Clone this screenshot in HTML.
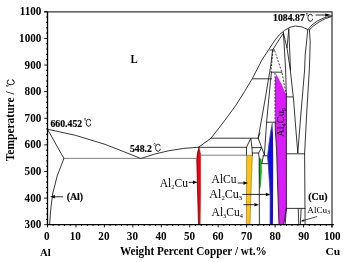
<!DOCTYPE html>
<html lang="en"><head><meta charset="utf-8"><title>Al-Cu phase diagram</title>
<style>html,body{margin:0;padding:0;background:#fff}body{width:347px;height:262px;overflow:hidden}svg{display:block}text{font-family:"Liberation Serif","IPAGothic",serif;fill:#000}.b{font-weight:bold}.c{font-family:"Liberation Serif","IPAGothic",serif;font-weight:normal}.ln{fill:none;stroke:#141414;stroke-width:.85;stroke-linejoin:round;stroke-linecap:round}.th{fill:none;stroke:#555;stroke-width:.75}.ds{fill:none;stroke:#141414;stroke-width:.8;stroke-dasharray:2 1.4}</style></head><body>
<svg width="347" height="262" viewBox="0 0 347 262">
<rect width="347" height="262" fill="#fff"/>
<path d="M199.1,147.3 L200.6,154 L200.6,195 L200.2,224.7 L198.5,224.7 L197.5,190 L196.8,160 Q197,152 199.1,147.3Z" fill="#fa0000"/>
<path d="M199.1,147.3 Q197,152 196.8,160 L197.5,190 L198.5,224.7" fill="none" stroke="#300" stroke-width=".7"/>
<path d="M199.1,147.3 L200.6,154 L200.6,195 L200.2,224.7" fill="none" stroke="#700" stroke-width=".35"/>
<path d="M246.6,155.2 L252.4,155.2 L251.4,180 L250.0,224.7 L246.3,224.7 Z" fill="#ffc20e" stroke="#5a4a10" stroke-width=".45"/>
<path d="M259.0,157.6 L261.6,159.2 L261.8,172 L260.8,186 L259.6,191 L258.9,172Z" fill="#00be14"/>
<path d="M272.3,122.8 L273.0,135 L273.5,160 L273.2,195 L272.9,224.7 L270,224.7 L270.1,196 L269.5,184 L268.2,164 L267.5,156 L268.8,145 L270.6,132 Z" fill="#0a0af5"/>
<path d="M273.2,140 L275.6,140 L276.8,165 L277.8,200 L279,224.7 L273,224.7 L273.4,180Z" fill="#fffef2"/>
<path d="M276.2,74.3 L281.5,84 L286.4,95.2 L286.4,208.4 L283.7,224.7 L279.0,224.7 L277.6,185 L276.6,150 L275.3,130 L275.0,100 L275.0,78Z" fill="#d81cfc"/>
<path class="ln" d="M47.5,129.2 Q75,134 104,144 Q125,152 140.8,158.5 M47.5,129.2 L63.9,158.4 M63.9,158.4 Q56,176 52.6,194 Q50.3,210 49.6,224.7 M140.8,158.5 Q168,148.5 198.7,147.2 M198.7,147.2 L211,138.2 Q224,122 236.1,105 Q245,91 252.3,78.6 L261.9,60 L275.2,39.8 Q280,33.3 284.5,30.4 Q290,26.3 295.5,26 Q302,26 307.9,29.5 M307.9,29.5 Q315.5,18.8 332,15.6 M309.4,29.8 Q317.5,20.6 332,16.3 M198.7,147.3 H246.5 M211,138.2 H258.2 M252.6,78.8 H271.6 M246.5,155.2 V147.3 L250.8,138.2 L252.2,150 L252.4,155.4 M252.2,147.6 H261.6 M252.3,153 H258.6 M261.5,147.8 L258.6,153 L259.2,158 L259.4,224.7 M263.4,155.8 L261.8,163.6 M263,155.8 H267.5 M261.8,163.6 H268.2 M283.3,33.5 L279.8,38.6 L272.6,50 L270.7,66 L265,100 L258.2,138.2 L260,133 M258.2,138.2 L264.4,155 M271.4,72.2 L268.7,100 L266.6,122.2 L264.4,155 M266.6,122.2 H275.2 M270,50 H274.6 M271.2,72.2 H282 M275.2,121.5 L275.3,130 L276.6,150 L277.6,185 L279.0,224.7 M286.4,96.8 V208.4 L283.7,224.7 M286.4,208.4 L285.2,224.7 M283.3,32.5 L284.2,45 L285.6,70 L286.4,96.8 M283.3,32.5 L287,48 L288.8,29 M287,48 L290.3,70 L293.6,100 L295.5,125 L297.8,152.8 M288.8,29 L290.5,70 M286.4,96.9 H292.6 M307.8,29.6 L305.2,55 L304.6,70 L300.8,115 L297.8,152.8 M309.4,29.8 L310.2,42 L309.7,60 L309.3,70 L306.6,115 L304.6,153.8 L305.1,224.7 M286.4,153.8 H304.6 M286.4,208.4 H305.1 M298.2,208.4 L298.8,224.7 M301.1,208.4 L300.4,224.7"/>
<path class="th" d="M63.9,158.4 H196.7 M199.8,155.2 H246.5 M272.3,122.8 L270.6,132 L268.8,145 L267.5,156 L268.2,164 L269.5,184 L270.1,196 L270.0,224.7"/>
<path class="ds" d="M273,50.5 L270.9,72 M274.6,50.5 L281.8,72 L286.3,95 M275,73 V121"/>
<path d="M44.1,11.8 H332.0 V227.5" fill="none" stroke="#383838" stroke-width="1.25"/>
<path d="M47.5,11.8 V224.7 H333.8" fill="none" stroke="#000" stroke-width="1.3"/>
<path d="M47.50,224.70 h-3.3 M47.50,219.38 h-1.5 M47.50,214.05 h-1.5 M47.50,208.73 h-1.5 M47.50,203.41 h-1.5 M47.50,198.09 h-3.3 M47.50,192.76 h-1.5 M47.50,187.44 h-1.5 M47.50,182.12 h-1.5 M47.50,176.80 h-1.5 M47.50,171.47 h-3.3 M47.50,166.15 h-1.5 M47.50,160.83 h-1.5 M47.50,155.51 h-1.5 M47.50,150.19 h-1.5 M47.50,144.86 h-3.3 M47.50,139.54 h-1.5 M47.50,134.22 h-1.5 M47.50,128.90 h-1.5 M47.50,123.57 h-1.5 M47.50,118.25 h-3.3 M47.50,112.93 h-1.5 M47.50,107.61 h-1.5 M47.50,102.28 h-1.5 M47.50,96.96 h-1.5 M47.50,91.64 h-3.3 M47.50,86.31 h-1.5 M47.50,80.99 h-1.5 M47.50,75.67 h-1.5 M47.50,70.35 h-1.5 M47.50,65.03 h-3.3 M47.50,59.70 h-1.5 M47.50,54.38 h-1.5 M47.50,49.06 h-1.5 M47.50,43.74 h-1.5 M47.50,38.41 h-3.3 M47.50,33.09 h-1.5 M47.50,27.77 h-1.5 M47.50,22.45 h-1.5 M47.50,17.12 h-1.5 M47.50,11.80 h-3.3 M47.50,224.70 v2.7 M53.19,224.70 v1.3 M58.88,224.70 v1.3 M64.57,224.70 v1.3 M70.26,224.70 v1.3 M75.95,224.70 v2.7 M81.64,224.70 v1.3 M87.33,224.70 v1.3 M93.02,224.70 v1.3 M98.71,224.70 v1.3 M104.40,224.70 v2.7 M110.09,224.70 v1.3 M115.78,224.70 v1.3 M121.47,224.70 v1.3 M127.16,224.70 v1.3 M132.85,224.70 v2.7 M138.54,224.70 v1.3 M144.23,224.70 v1.3 M149.92,224.70 v1.3 M155.61,224.70 v1.3 M161.30,224.70 v2.7 M166.99,224.70 v1.3 M172.68,224.70 v1.3 M178.37,224.70 v1.3 M184.06,224.70 v1.3 M189.75,224.70 v2.7 M195.44,224.70 v1.3 M201.13,224.70 v1.3 M206.82,224.70 v1.3 M212.51,224.70 v1.3 M218.20,224.70 v2.7 M223.89,224.70 v1.3 M229.58,224.70 v1.3 M235.27,224.70 v1.3 M240.96,224.70 v1.3 M246.65,224.70 v2.7 M252.34,224.70 v1.3 M258.03,224.70 v1.3 M263.72,224.70 v1.3 M269.41,224.70 v1.3 M275.10,224.70 v2.7 M280.79,224.70 v1.3 M286.48,224.70 v1.3 M292.17,224.70 v1.3 M297.86,224.70 v1.3 M303.55,224.70 v2.7 M309.24,224.70 v1.3 M314.93,224.70 v1.3 M320.62,224.70 v1.3 M326.31,224.70 v1.3 M332.00,224.70 v2.7" fill="none" stroke="#000" stroke-width=".9"/>
<text class="b" transform="translate(41.40,228.30) scale(0.925,1)" font-size="12.1" text-anchor="end">300</text>
<text class="b" transform="translate(41.40,201.69) scale(0.925,1)" font-size="12.1" text-anchor="end">400</text>
<text class="b" transform="translate(41.40,175.07) scale(0.925,1)" font-size="12.1" text-anchor="end">500</text>
<text class="b" transform="translate(41.40,148.46) scale(0.925,1)" font-size="12.1" text-anchor="end">600</text>
<text class="b" transform="translate(41.40,121.85) scale(0.925,1)" font-size="12.1" text-anchor="end">700</text>
<text class="b" transform="translate(41.40,95.24) scale(0.925,1)" font-size="12.1" text-anchor="end">800</text>
<text class="b" transform="translate(41.40,68.62) scale(0.925,1)" font-size="12.1" text-anchor="end">900</text>
<text class="b" transform="translate(41.40,42.01) scale(0.925,1)" font-size="12.1" text-anchor="end">1000</text>
<text class="b" transform="translate(41.40,15.40) scale(0.925,1)" font-size="12.1" text-anchor="end">1100</text>
<text class="b" transform="translate(46.80,240.30) scale(0.925,1)" font-size="12.1" text-anchor="middle">0</text>
<text class="b" transform="translate(75.35,240.30) scale(0.925,1)" font-size="12.1" text-anchor="middle">10</text>
<text class="b" transform="translate(103.90,240.30) scale(0.925,1)" font-size="12.1" text-anchor="middle">20</text>
<text class="b" transform="translate(132.45,240.30) scale(0.925,1)" font-size="12.1" text-anchor="middle">30</text>
<text class="b" transform="translate(161.00,240.30) scale(0.925,1)" font-size="12.1" text-anchor="middle">40</text>
<text class="b" transform="translate(189.55,240.30) scale(0.925,1)" font-size="12.1" text-anchor="middle">50</text>
<text class="b" transform="translate(218.10,240.30) scale(0.925,1)" font-size="12.1" text-anchor="middle">60</text>
<text class="b" transform="translate(246.65,240.30) scale(0.925,1)" font-size="12.1" text-anchor="middle">70</text>
<text class="b" transform="translate(275.20,240.30) scale(0.925,1)" font-size="12.1" text-anchor="middle">80</text>
<text class="b" transform="translate(303.75,240.30) scale(0.925,1)" font-size="12.1" text-anchor="middle">90</text>
<text class="b" transform="translate(332.30,240.30) scale(0.925,1)" font-size="12.1" text-anchor="middle">100</text>
<text class="b" transform="translate(13.9,161.3) rotate(-90)" font-size="11.5">Temperature /</text>
<text class="c" transform="translate(14.6,87.2) rotate(-90) scale(.82,1)" font-size="10.8">℃</text>
<text class="b" transform="translate(119.90,255.00) scale(0.943,1)" font-size="11.9">Weight Percent Copper / wt.%</text>
<text class="b" transform="translate(40.00,255.60) scale(0.980,1)" font-size="10.9">Al</text>
<text class="b" transform="translate(325.50,255.30) scale(1.030,1)" font-size="11.2">Cu</text>
<text class="b" transform="translate(130.60,62.90) scale(0.930,1)" font-size="11.6">L</text>
<text class="b" transform="translate(50.50,126.60) scale(0.985,1)" font-size="9.9" stroke="#000" stroke-width=".18">660.452</text>
<text class="c" transform="translate(83.80,126.80) scale(0.780,1)" font-size="10.8">℃</text>
<text class="b" transform="translate(129.90,152.00) scale(0.985,1)" font-size="9.9" stroke="#000" stroke-width=".18">548.2</text>
<text class="c" transform="translate(153.30,152.10) scale(0.780,1)" font-size="10.8">℃</text>
<text class="b" transform="translate(273.10,21.40) scale(0.985,1)" font-size="9.9" stroke="#000" stroke-width=".18">1084.87</text>
<text class="c" transform="translate(305.60,21.60) scale(0.780,1)" font-size="10.8">℃</text>
<text class="b" transform="translate(66.70,200.30) scale(0.960,1)" font-size="10.3" stroke="#000" stroke-width=".18">(Al)</text>
<text class="b" transform="translate(308.30,200.40) scale(0.960,1)" font-size="10.3" stroke="#000" stroke-width=".18">(Cu)</text>
<text x="159.7" y="186.9" font-size="12" textLength="28.3" lengthAdjust="spacingAndGlyphs">Al<tspan dy="1.7" font-size="6.6">2</tspan><tspan dy="-1.7">Cu</tspan></text>
<text x="211.6" y="183" font-size="12" textLength="24.9" lengthAdjust="spacingAndGlyphs">AlCu</text>
<text x="209.3" y="198.1" font-size="12" textLength="32.9" lengthAdjust="spacingAndGlyphs">Al<tspan dy="1.7" font-size="6.6">2</tspan><tspan dy="-1.7">Cu</tspan><tspan dy="1.7" font-size="6.6">3</tspan></text>
<text x="211.6" y="216.3" font-size="12" textLength="31.3" lengthAdjust="spacingAndGlyphs">Al<tspan dy="1.7" font-size="6.6">3</tspan><tspan dy="-1.7">Cu</tspan><tspan dy="1.7" font-size="6.6">4</tspan></text>
<text x="307.3" y="213" font-size="9" fill="#333" textLength="22.7" lengthAdjust="spacingAndGlyphs">AlCu<tspan dy="1.4" font-size="5.6">3</tspan></text>
<text transform="translate(284.2,136.8) rotate(-90)" font-size="10.4">Al<tspan dy="1.4" font-size="6.2">4</tspan><tspan dy="-1.4">Cu</tspan><tspan dy="1.4" font-size="6.2">9</tspan></text>
<path d="M63.20,196.80 L54.90,196.80" stroke="#000" stroke-width="0.85" fill="none"/><path d="M50.30,196.80 L54.90,195.05 L54.90,198.55 Z" fill="#000"/>
<path d="M188.60,182.30 L193.00,182.30" stroke="#000" stroke-width="0.85" fill="none"/><path d="M197.60,182.30 L193.00,184.05 L193.00,180.55 Z" fill="#000"/>
<path d="M237.60,183.00 L243.40,183.00" stroke="#000" stroke-width="0.85" fill="none"/><path d="M248.00,183.00 L243.40,184.75 L243.40,181.25 Z" fill="#000"/>
<path d="M242.30,194.40 L265.80,194.40" stroke="#000" stroke-width="0.85" fill="none"/><path d="M270.40,194.40 L265.80,196.15 L265.80,192.65 Z" fill="#000"/>
<path d="M243.40,204.70 L254.40,204.70" stroke="#000" stroke-width="0.85" fill="none"/><path d="M259.00,204.70 L254.40,206.45 L254.40,202.95 Z" fill="#000"/>
<path d="M315.60,15.00 L325.10,15.00" stroke="#000" stroke-width="0.85" fill="none"/><path d="M331.30,15.00 L325.10,16.45 L325.10,13.55 Z" fill="#000"/>
<path d="M317.20,216.50 L303.87,220.40" stroke="#000" stroke-width="0.70" fill="none"/><path d="M300.80,221.30 L303.56,219.35 L304.18,221.46 Z" fill="#000"/>
</svg></body></html>
